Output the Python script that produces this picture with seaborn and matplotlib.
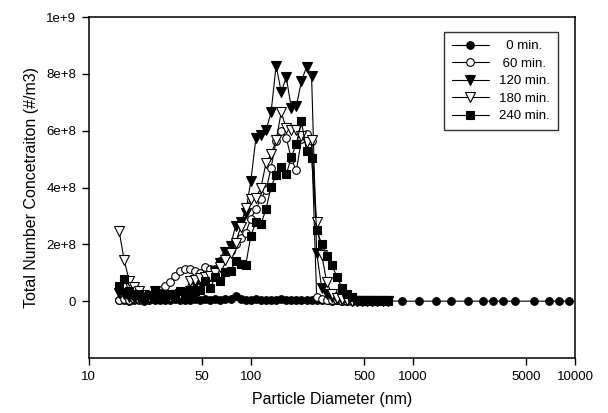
import numpy as np
import pandas as pd
import matplotlib
matplotlib.use("Agg")
import matplotlib.pyplot as plt
import seaborn as sns
from matplotlib.ticker import FixedLocator, FixedFormatter, NullFormatter

sns.set_theme(style="white")
plt.rcParams["font.family"] = ["Liberation Sans", "DejaVu Sans"]

# ---- data -------------------------------------------------------------
diam_smps = [15.4, 16.55, 17.78, 19.11, 20.54, 22.07, 23.71, 25.48, 27.38, 29.43,
             31.62, 33.98, 36.52, 39.24, 42.17, 45.32, 48.70, 52.33, 56.23, 60.43,
             64.94, 69.78, 74.99, 80.58, 86.60, 93.06, 100.0, 107.5, 115.5, 124.1,
             133.4, 143.3, 154.0, 165.5, 177.8, 191.1, 205.4, 220.7, 237.1, 254.8,
             273.8, 294.3, 316.2, 339.8, 365.2, 392.4, 421.7, 453.2, 486.9, 523.3,
             562.3, 604.3, 649.4, 697.9]
diam_aps = [862, 1093, 1389, 1722, 2186, 2713, 3131, 3610, 4271, 5558, 6892, 7953, 9179]

# concentrations in units of 1e8 #/m3
conc_0 = [0.03, 0.05, 0.02, 0.04, 0.03, 0.02, 0.04, 0.03, 0.05, 0.03,
          0.04, 0.06, 0.04, 0.05, 0.03, 0.06, 0.05, 0.08, 0.04, 0.06,
          0.05, 0.07, 0.06, 0.18, 0.07, 0.05, 0.04, 0.06, 0.05, 0.04,
          0.05, 0.04, 0.06, 0.05, 0.04, 0.05, 0.03, 0.04, 0.05, 0.03,
          0.04, 0.03, 0.02, 0.03, 0.02, 0.02, 0.01, 0.01, 0.01, 0.01,
          0.01, 0.01, 0.01, 0.01,
          0.0, 0.0, 0.0, 0.0, 0.0, 0.0, 0.0, 0.0, 0.0, 0.0, 0.0, 0.0, 0.0]
conc_60 = [0.05, 0.08, 0.05, 0.06, 0.08, 0.10, 0.15, 0.20, 0.30, 0.54,
           0.66, 0.89, 1.07, 1.13, 1.13, 1.07, 1.00, 1.19, 1.12, 1.13,
           1.42, 1.60, 1.77, 2.00, 2.24, 2.41, 2.90, 3.25, 3.60, 3.90,
           4.70, 5.65, 6.00, 5.75, 5.00, 4.60, 5.70, 5.90, 5.65, 0.15,
           0.08, 0.05, 0.04, 0.03, 0.02, 0.01, 0.01, 0.01, 0.01, 0.01,
           0.01, 0.01, 0.01, 0.01]
conc_120 = [0.30, 0.25, 0.15, 0.10, 0.12, 0.10, 0.08, 0.10, 0.12, 0.15,
            0.20, 0.20, 0.25, 0.30, 0.35, 0.60, 0.70, 0.75, 0.90, 1.05,
            1.35, 1.74, 1.95, 2.65, 2.80, 3.12, 4.23, 5.73, 5.84, 6.01,
            6.65, 8.29, 7.36, 7.88, 6.80, 6.86, 7.76, 8.24, 7.94, 1.70,
            0.48, 0.25, 0.13, 0.08, 0.05, 0.03, 0.01, 0.01, 0.01, 0.01,
            0.01, 0.01, 0.01, 0.01]
conc_180 = [2.47, 1.45, 0.72, 0.50, 0.36, 0.20, 0.15, 0.37, 0.20, 0.18,
            0.15, 0.20, 0.25, 0.30, 0.70, 0.75, 0.80, 0.85, 0.90, 1.00,
            1.20, 1.45, 1.70, 2.06, 2.60, 3.29, 3.59, 3.64, 3.99, 4.87,
            5.17, 5.66, 6.65, 6.08, 6.04, 6.04, 5.81, 5.61, 5.66, 2.77,
            1.63, 0.66, 0.25, 0.12, 0.06, 0.03, 0.01, 0.01, 0.01, 0.01,
            0.01, 0.01, 0.01, 0.01]
conc_240 = [0.54, 0.78, 0.35, 0.25, 0.20, 0.15, 0.20, 0.37, 0.25, 0.20,
            0.22, 0.25, 0.35, 0.30, 0.30, 0.35, 0.40, 0.72, 0.48, 0.84,
            0.72, 1.01, 1.05, 1.42, 1.31, 1.27, 2.30, 2.77, 2.71, 3.24,
            4.02, 4.43, 4.73, 4.46, 5.07, 5.54, 6.33, 5.28, 5.05, 2.51,
            2.01, 1.60, 1.28, 0.85, 0.46, 0.25, 0.13, 0.05, 0.02, 0.02,
            0.02, 0.02, 0.02, 0.02]

series_labels = ["0 min.", "60 min.", "120 min.", "180 min.", "240 min."]
legend_texts = ["  0 min.", " 60 min.", "120 min.", "180 min.", "240 min."]

x_ticks = [10, 50, 100, 500, 1000, 5000, 10000]
x_tick_labels = ["10", "50", "100", "500", "1000", "5000", "10000"]
x_grid = [50, 100, 500, 1000, 5000]
y_ticks = [0, 2e8, 4e8, 6e8, 8e8, 1e9]
y_tick_labels = ["0", "2e+8", "4e+8", "6e+8", "8e+8", "1e+9"]
y_grid = [0, 2e8, 4e8, 6e8, 8e8]

# ---- build long table ------------------------------------------------
frames = []
all_conc = [conc_0, conc_60, conc_120, conc_180, conc_240]
for lab, conc in zip(series_labels, all_conc):
    d = (diam_smps + diam_aps)[:len(conc)]
    frames.append(pd.DataFrame({"diam": d, "conc": np.array(conc) * 1e8, "time": lab}))
df = pd.concat(frames, ignore_index=True)

styles = {
    "0 min.":   dict(marker="o", mfc="black", ms=5.5),
    "60 min.":  dict(marker="o", mfc="white", ms=5.5),
    "120 min.": dict(marker="v", mfc="black", ms=6.5),
    "180 min.": dict(marker="v", mfc="white", ms=6.5),
    "240 min.": dict(marker="s", mfc="black", ms=5.2),
}

fig = plt.figure(figsize=(6.08, 4.13), dpi=100)
ax = fig.add_axes([88.7 / 608, 1 - 358 / 413, (575 - 88.7) / 608, (358 - 17) / 413])

for lab, ltxt in zip(series_labels, legend_texts):
    st = styles[lab]
    sns.lineplot(data=df[df["time"] == lab], x="diam", y="conc", ax=ax,
                 color="black", lw=0.8, marker=st["marker"], markersize=st["ms"],
                 markerfacecolor=st["mfc"], markeredgecolor="black",
                 markeredgewidth=0.8, label=ltxt, estimator=None, sort=True)

ax.set_xscale("log")
ax.set_xlim(10, 10000)
ax.set_ylim(-2e8, 1e9)

ax.xaxis.set_major_locator(FixedLocator(x_ticks))
ax.xaxis.set_major_formatter(FixedFormatter(x_tick_labels))
ax.xaxis.set_minor_locator(FixedLocator(x_grid))
ax.xaxis.set_minor_formatter(NullFormatter())
ax.yaxis.set_major_locator(FixedLocator(y_ticks))
ax.yaxis.set_major_formatter(FixedFormatter(y_tick_labels))
ax.yaxis.set_minor_locator(FixedLocator(y_grid))
ax.yaxis.set_minor_formatter(NullFormatter())

ax.grid(False)
ax.grid(which="minor", linestyle=(0, (1, 2)), color="#a8a8a8", lw=0.7)
ax.tick_params(which="minor", length=0)
ax.tick_params(which="major", direction="out", length=5, width=1.0, color="black",
               labelsize=9.5, labelcolor="black", bottom=True, left=True,
               top=False, right=False, pad=4)
for sp in ax.spines.values():
    sp.set_color("black")
    sp.set_linewidth(1.1)

ax.set_xlabel("Particle Diameter (nm)", fontsize=11.5, color="black", labelpad=7)
ax.set_ylabel("Total Number Concetraiton (#/m3)", fontsize=11.5, color="black", labelpad=5)

leg = ax.legend(loc="upper right", bbox_to_anchor=(0.965, 0.956), borderaxespad=0,
                frameon=True, fancybox=False, edgecolor="black", fontsize=9.5,
                handlelength=2.8, labelspacing=0.4, handletextpad=0.8,
                borderpad=0.6)
leg.get_frame().set_linewidth(1.0)
for t in leg.get_texts():
    t.set_color("black")

fig.savefig("out.png", dpi=100, facecolor="white")
